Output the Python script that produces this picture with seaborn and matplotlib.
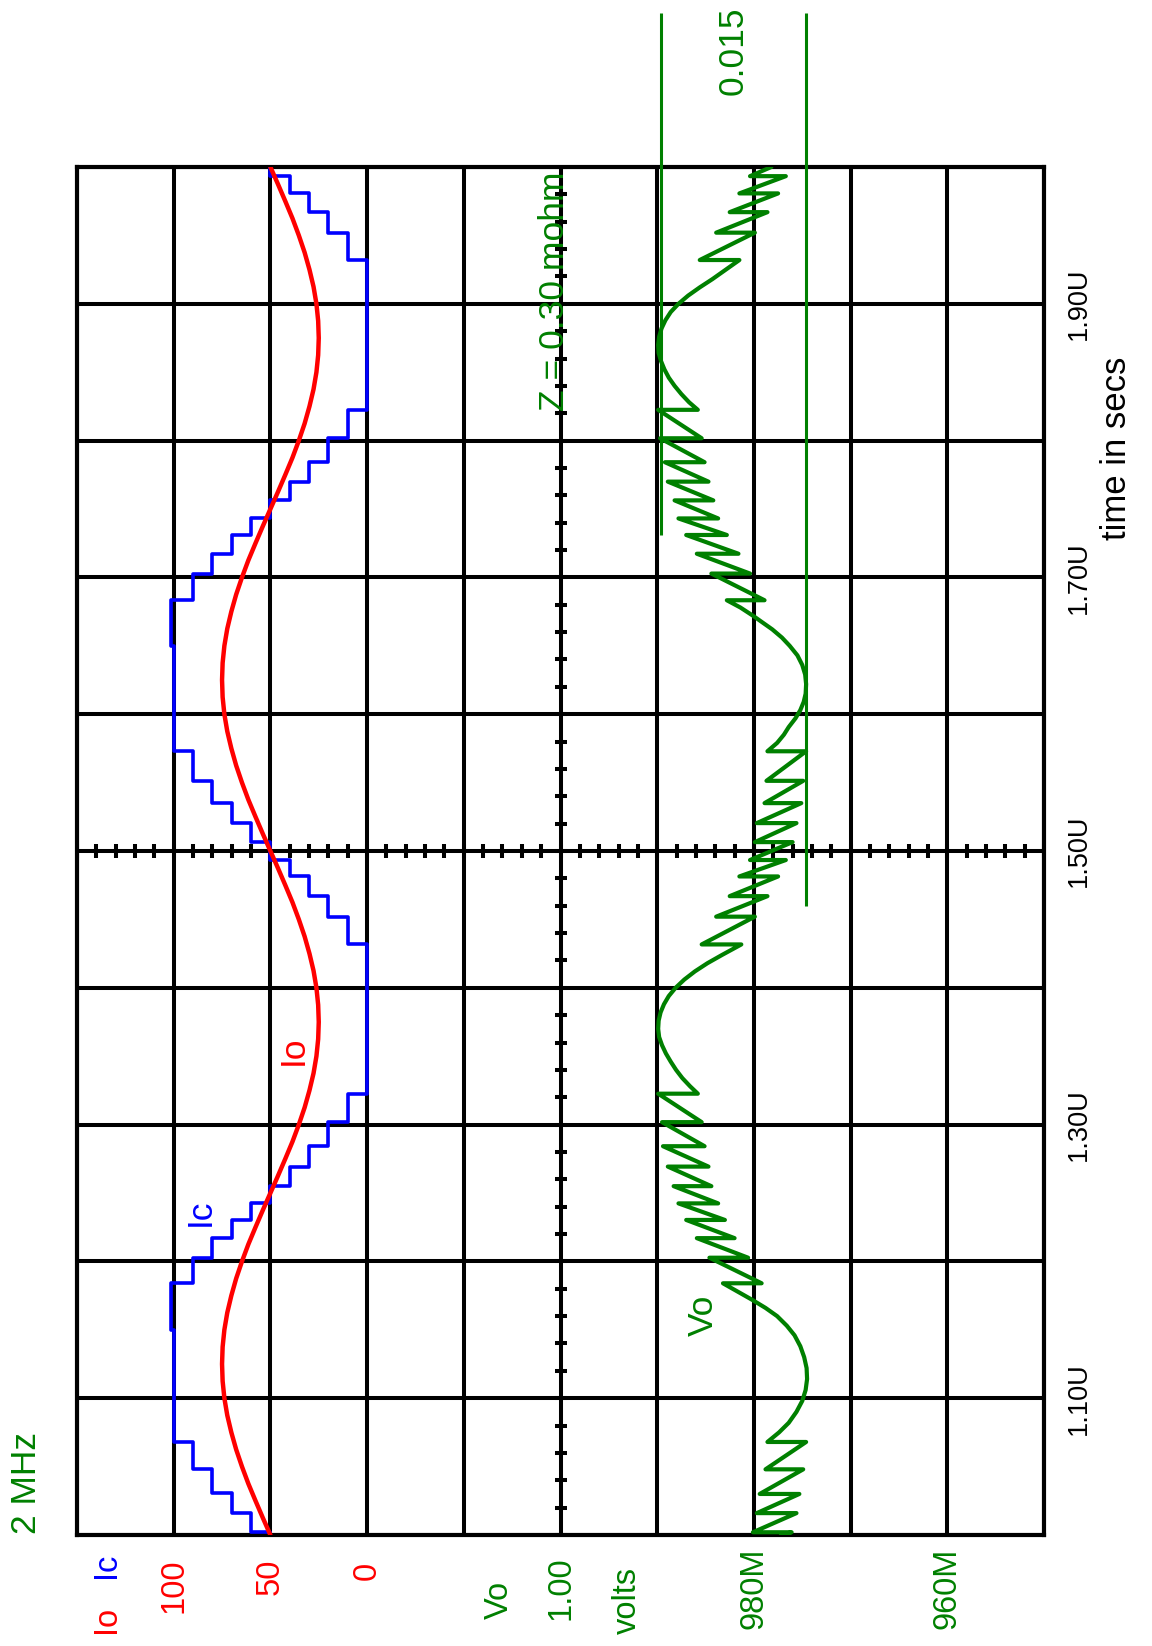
import numpy as np
import pandas as pd
import matplotlib
matplotlib.use("Agg")
import matplotlib.pyplot as plt
import seaborn as sns
from matplotlib import transforms, font_manager

# ---------------- data ----------------
# load current Io [A], sampled every 0.0125 us from 1.00 us to 2.00 us
io_t = np.round(np.arange(81) * 0.0125 + 1.0, 4)
io_period = [50.0, 53.9, 57.7, 61.4, 64.7, 67.7, 70.2, 72.3, 73.8, 74.7,
             75.0, 74.7, 73.8, 72.3, 70.2, 67.7, 64.7, 61.4, 57.7, 53.9,
             50.0, 46.1, 42.3, 38.6, 35.3, 32.3, 29.8, 27.7, 26.2, 25.3,
             25.0, 25.3, 26.2, 27.7, 29.8, 32.3, 35.3, 38.6, 42.3, 46.1]
io_vals = io_period + io_period + [50.0]

# converter current Ic [A]: level at 1.00 us, then switching times and new levels
ic_start = 50
ic_switch_t = [1.002, 1.016, 1.031, 1.048, 1.068, 1.150,
               1.184, 1.2027, 1.217, 1.2303, 1.2424, 1.255, 1.2693, 1.2842, 1.3018, 1.3226,
               1.4317, 1.452, 1.467, 1.4814, 1.4934, 1.5065, 1.5204, 1.535, 1.5513, 1.5729,
               1.650,
               1.6833, 1.7028, 1.7173, 1.731, 1.7431, 1.7563, 1.770, 1.7842, 1.8017, 1.8225,
               1.932, 1.952, 1.967, 1.9807, 1.9933]
ic_levels = [60, 70, 80, 90, 100, 101.5,
             90, 80, 70, 60, 50, 40, 30, 20, 10, 0,
             10, 20, 30, 40, 50, 60, 70, 80, 90, 100,
             101.5,
             90, 80, 70, 60, 50, 40, 30, 20, 10, 0,
             10, 20, 30, 40, 50]

# output voltage Vo, as deviation from 1.00 V in mV, at times [us]
vo_t = [1.000,
        # ripple while Ic rises
        1.002, 1.002, 1.016, 1.016, 1.030, 1.030, 1.048, 1.048, 1.068, 1.068,
        # smooth dip
        1.075, 1.082, 1.090, 1.098, 1.106, 1.114, 1.122, 1.130, 1.138, 1.146,
        1.153, 1.160, 1.166, 1.172, 1.178,
        # ripple while Ic falls
        1.184, 1.184, 1.2027, 1.2027, 1.217, 1.217, 1.2303, 1.2303, 1.2424, 1.2424,
        1.255, 1.255, 1.2693, 1.2693, 1.2842, 1.2842, 1.3018, 1.3018, 1.3226, 1.3226,
        # smooth peak
        1.328, 1.334, 1.340, 1.346, 1.352, 1.358, 1.364, 1.370, 1.376, 1.382,
        1.388, 1.394, 1.400, 1.406, 1.412, 1.418, 1.424,
        # ripple while Ic rises
        1.4317, 1.4317, 1.452, 1.452, 1.467, 1.467, 1.4814, 1.4814, 1.4934, 1.4934,
        1.5065, 1.5065, 1.5204, 1.5204, 1.535, 1.535, 1.5513, 1.5513, 1.5729, 1.5729,
        # smooth dip
        1.579, 1.585, 1.5906, 1.597, 1.603, 1.609, 1.615, 1.622, 1.629, 1.636,
        1.643, 1.650, 1.656, 1.662, 1.667, 1.672, 1.678,
        # ripple while Ic falls
        1.6833, 1.6833, 1.7028, 1.7028, 1.7173, 1.7173, 1.731, 1.731, 1.7431, 1.7431,
        1.7563, 1.7563, 1.770, 1.770, 1.7842, 1.7842, 1.8017, 1.8017, 1.8225, 1.8225,
        # smooth peak
        1.828, 1.834, 1.840, 1.846, 1.852, 1.858, 1.864, 1.870, 1.876, 1.882,
        1.888, 1.894, 1.900, 1.906, 1.912, 1.918, 1.925,
        # ripple while Ic rises
        1.932, 1.932, 1.952, 1.952, 1.967, 1.967, 1.9807, 1.9807, 1.9933, 1.9933,
        2.000]
vo_mv = [-22.8,
         -23.9, -19.9, -24.4, -20.3, -24.7, -20.6, -25.1, -21.2, -25.4, -21.4,
         -22.6, -23.6, -24.4, -25.0, -25.35, -25.5, -25.45, -25.2, -24.8, -24.2,
         -23.4, -22.4, -21.2, -19.8, -18.3,
         -16.8, -20.8, -15.4, -19.4, -14.1, -18.0, -13.0, -17.0, -12.2, -16.3,
         -11.7, -15.6, -11.1, -15.3, -10.6, -14.9, -10.5, -14.6, -10.1, -14.2,
         -13.4, -12.6, -11.95, -11.4, -10.9, -10.5, -10.2, -10.1, -10.15, -10.35,
         -10.7, -11.2, -11.9, -12.8, -13.9, -15.2, -16.7,
         -18.7, -14.6, -20.1, -16.1, -21.4, -17.5, -22.5, -18.5, -23.3, -19.6,
         -24.0, -20.1, -24.4, -20.3, -24.9, -21.1, -25.1, -21.3, -25.4, -21.4,
         -22.4, -23.1, -23.6, -24.3, -24.8, -25.15, -25.35, -25.4, -25.3, -25.0,
         -24.5, -23.7, -22.9, -21.9, -20.9, -19.9, -18.6,
         -17.2, -21.1, -15.6, -19.6, -14.1, -18.4, -13.0, -17.2, -12.2, -16.3,
         -11.8, -15.8, -11.1, -15.3, -10.8, -14.9, -10.3, -14.6, -10.1, -14.2,
         -13.3, -12.5, -11.8, -11.2, -10.75, -10.4, -10.15, -10.1, -10.2, -10.45,
         -10.85, -11.4, -12.2, -13.2, -14.4, -15.7, -17.1,
         -18.5, -14.4, -20.1, -16.1, -21.4, -17.5, -22.5, -18.5, -23.3, -19.6,
         -21.8]

# ripple marker lines (mV from 1.00 V) and their time spans [us]
ref_mv = [-10.35, -25.40]
ref_t0 = [1.731, 1.460]
ref_t1 = [2.1126, 2.1126]

time_ticks = [1.1, 1.3, 1.5, 1.7, 1.9]
time_labels = ["1.10U", "1.30U", "1.50U", "1.70U", "1.90U"]
i_ticks = [100, 50, 0]
i_labels = ["100", "50", "0"]
v_ticks = [1.00, 0.98, 0.96]
v_labels = ["1.00", "980M", "960M"]

# ---------------- styling ----------------
sns.set_theme(style="white")
plt.rcParams["font.family"] = ["Liberation Sans", "DejaVu Sans"]
names = {f.name for f in font_manager.fontManager.ttflist}
narrow = "Liberation Sans Narrow" in names

RED, BLUE, GREEN = "#ff0000", "#0000ff", "#008000"
W, H = 1152, 1646
L, R, T, B = 77, 1044, 167, 1535

fig = plt.figure(figsize=(W / 100, H / 100), dpi=100)
fig.patch.set_facecolor("white")
ax = fig.add_axes([L / W, 1 - B / H, (R - L) / W, (B - T) / H])
ax2 = ax.twiny()

# Io / Ic (amps) on ax, Vo (volts) on ax2; time runs upward
df_io = pd.DataFrame({"t": io_t, "I": io_vals})
sns.lineplot(data=df_io, x="I", y="t", sort=False, estimator=None,
             color=RED, lw=3.2, ax=ax, zorder=3)

ic_tp, ic_vp, lev = [1.0], [ic_start], ic_start
for tt, nl in zip(ic_switch_t, ic_levels):
    ic_tp += [tt, tt]
    ic_vp += [lev, nl]
    lev = nl
ic_tp.append(2.0)
ic_vp.append(lev)
df_ic = pd.DataFrame({"t": ic_tp, "I": ic_vp})
sns.lineplot(data=df_ic, x="I", y="t", sort=False, estimator=None,
             color=BLUE, lw=2.6, ax=ax, zorder=2.8)

df_vo = pd.DataFrame({"t": vo_t, "V": 1.0 + np.array(vo_mv) / 1000.0})
sns.lineplot(data=df_vo, x="V", y="t", sort=False, estimator=None,
             color=GREEN, lw=3.0, ax=ax2, zorder=3)
ref_v = 1.0 + np.array(ref_mv) / 1000.0
ax2.vlines(ref_v, ref_t0, ref_t1, color=GREEN, lw=2.2, clip_on=False, zorder=3)

ax.set_xlim(150, -350)
ax.set_ylim(1.0, 2.0)
ax2.set_xlim(1.05, 0.95)
ax2.set_ylim(1.0, 2.0)

# grid 10 x 10
ax.set_xticks(np.arange(-350, 151, 50))
ax.set_yticks(np.round(np.arange(11) * 0.1 + 1.0, 2))
ax.grid(True, color="black", lw=2.9)
ax.set_axisbelow(True)
ax.tick_params(length=0, labelbottom=False, labelleft=False)
ax2.set_xticks([])
ax2.tick_params(length=0, labeltop=False)
for s in ax.spines.values():
    s.set_color("black")
    s.set_linewidth(3.0)
for s in ax2.spines.values():
    s.set_visible(False)
for a in (ax, ax2):
    a.set_xlabel("")
    a.set_ylabel("")

# minor ticks on centre lines
tc = np.round(np.arange(51) * 0.02 + 1.0, 3)
ax.plot(np.full(tc.size, -100.0), tc, ls="none", marker="_", ms=9, mew=2.9,
        color="black", zorder=2)
ic_c = np.arange(150, -351, -10)
ax.plot(ic_c, np.full(ic_c.size, 1.5), ls="none", marker="|", ms=9.5, mew=2.9,
        color="black", zorder=2)

# ---------------- texts ----------------
def ftext(x, y, s, color, size):
    fig.text(x / W, 1 - y / H, s, color=color, fontsize=size, rotation=90,
             ha="center", va="center")

ftext(27, 1483, "2 MHz", GREEN, 25.5)
ftext(554, 291, "Z = 0.30 mohm", GREEN, 25.5)
ftext(733, 51, "0.015", GREEN, 25.5)
ftext(1117, 448, "time in secs", "black", 25)

# curve labels
ax.text(38.3, 1.3545, "Io", color=RED, fontsize=25.5, rotation=90, ha="center", va="center")
ax.text(86.4, 1.236, "Ic", color=BLUE, fontsize=25.5, rotation=90, ha="center", va="center")
ax2.text(0.98526, 1.1608, "Vo", color=GREEN, fontsize=25.5, rotation=90, ha="center", va="center")

# time tick labels (right side)
tr_t = transforms.blended_transform_factory(ax.transAxes, ax.transData)
tsize = 23.5 if narrow else 19.5
tfam = ["Liberation Sans Narrow", "Liberation Sans"] if narrow else ["Liberation Sans"]
for tv, tl in zip(time_ticks, time_labels):
    ax.text((1079 - L) / (R - L), tv, tl, transform=tr_t, rotation=90,
            ha="center", va="center", fontsize=tsize, family=tfam, color="black")

# value tick labels (bottom)
tr_i = transforms.blended_transform_factory(ax.transData, fig.transFigure)
tr_v = transforms.blended_transform_factory(ax2.transData, fig.transFigure)
i_yc = [1586, 1577, 1571]
for xv, lab, yc in zip(i_ticks, i_labels, i_yc):
    ax.text(xv, 1 - yc / H, lab, transform=tr_i, rotation=90, ha="center",
            va="center", fontsize=23.5, color=RED)
for xv, lab in zip(v_ticks, v_labels):
    ax2.text(xv, 1 - 1588 / H, lab, transform=tr_v, rotation=90, ha="center",
             va="center", fontsize=23.5, color=GREEN)

ftext(106, 1619, "Io", RED, 23.5)
ftext(106, 1565, "Ic", BLUE, 23.5)
ftext(499, 1600, "Vo", GREEN, 23.5)
ftext(627, 1601, "volts", GREEN, 23.5)

fig.savefig("out.png", dpi=100, facecolor="white")
